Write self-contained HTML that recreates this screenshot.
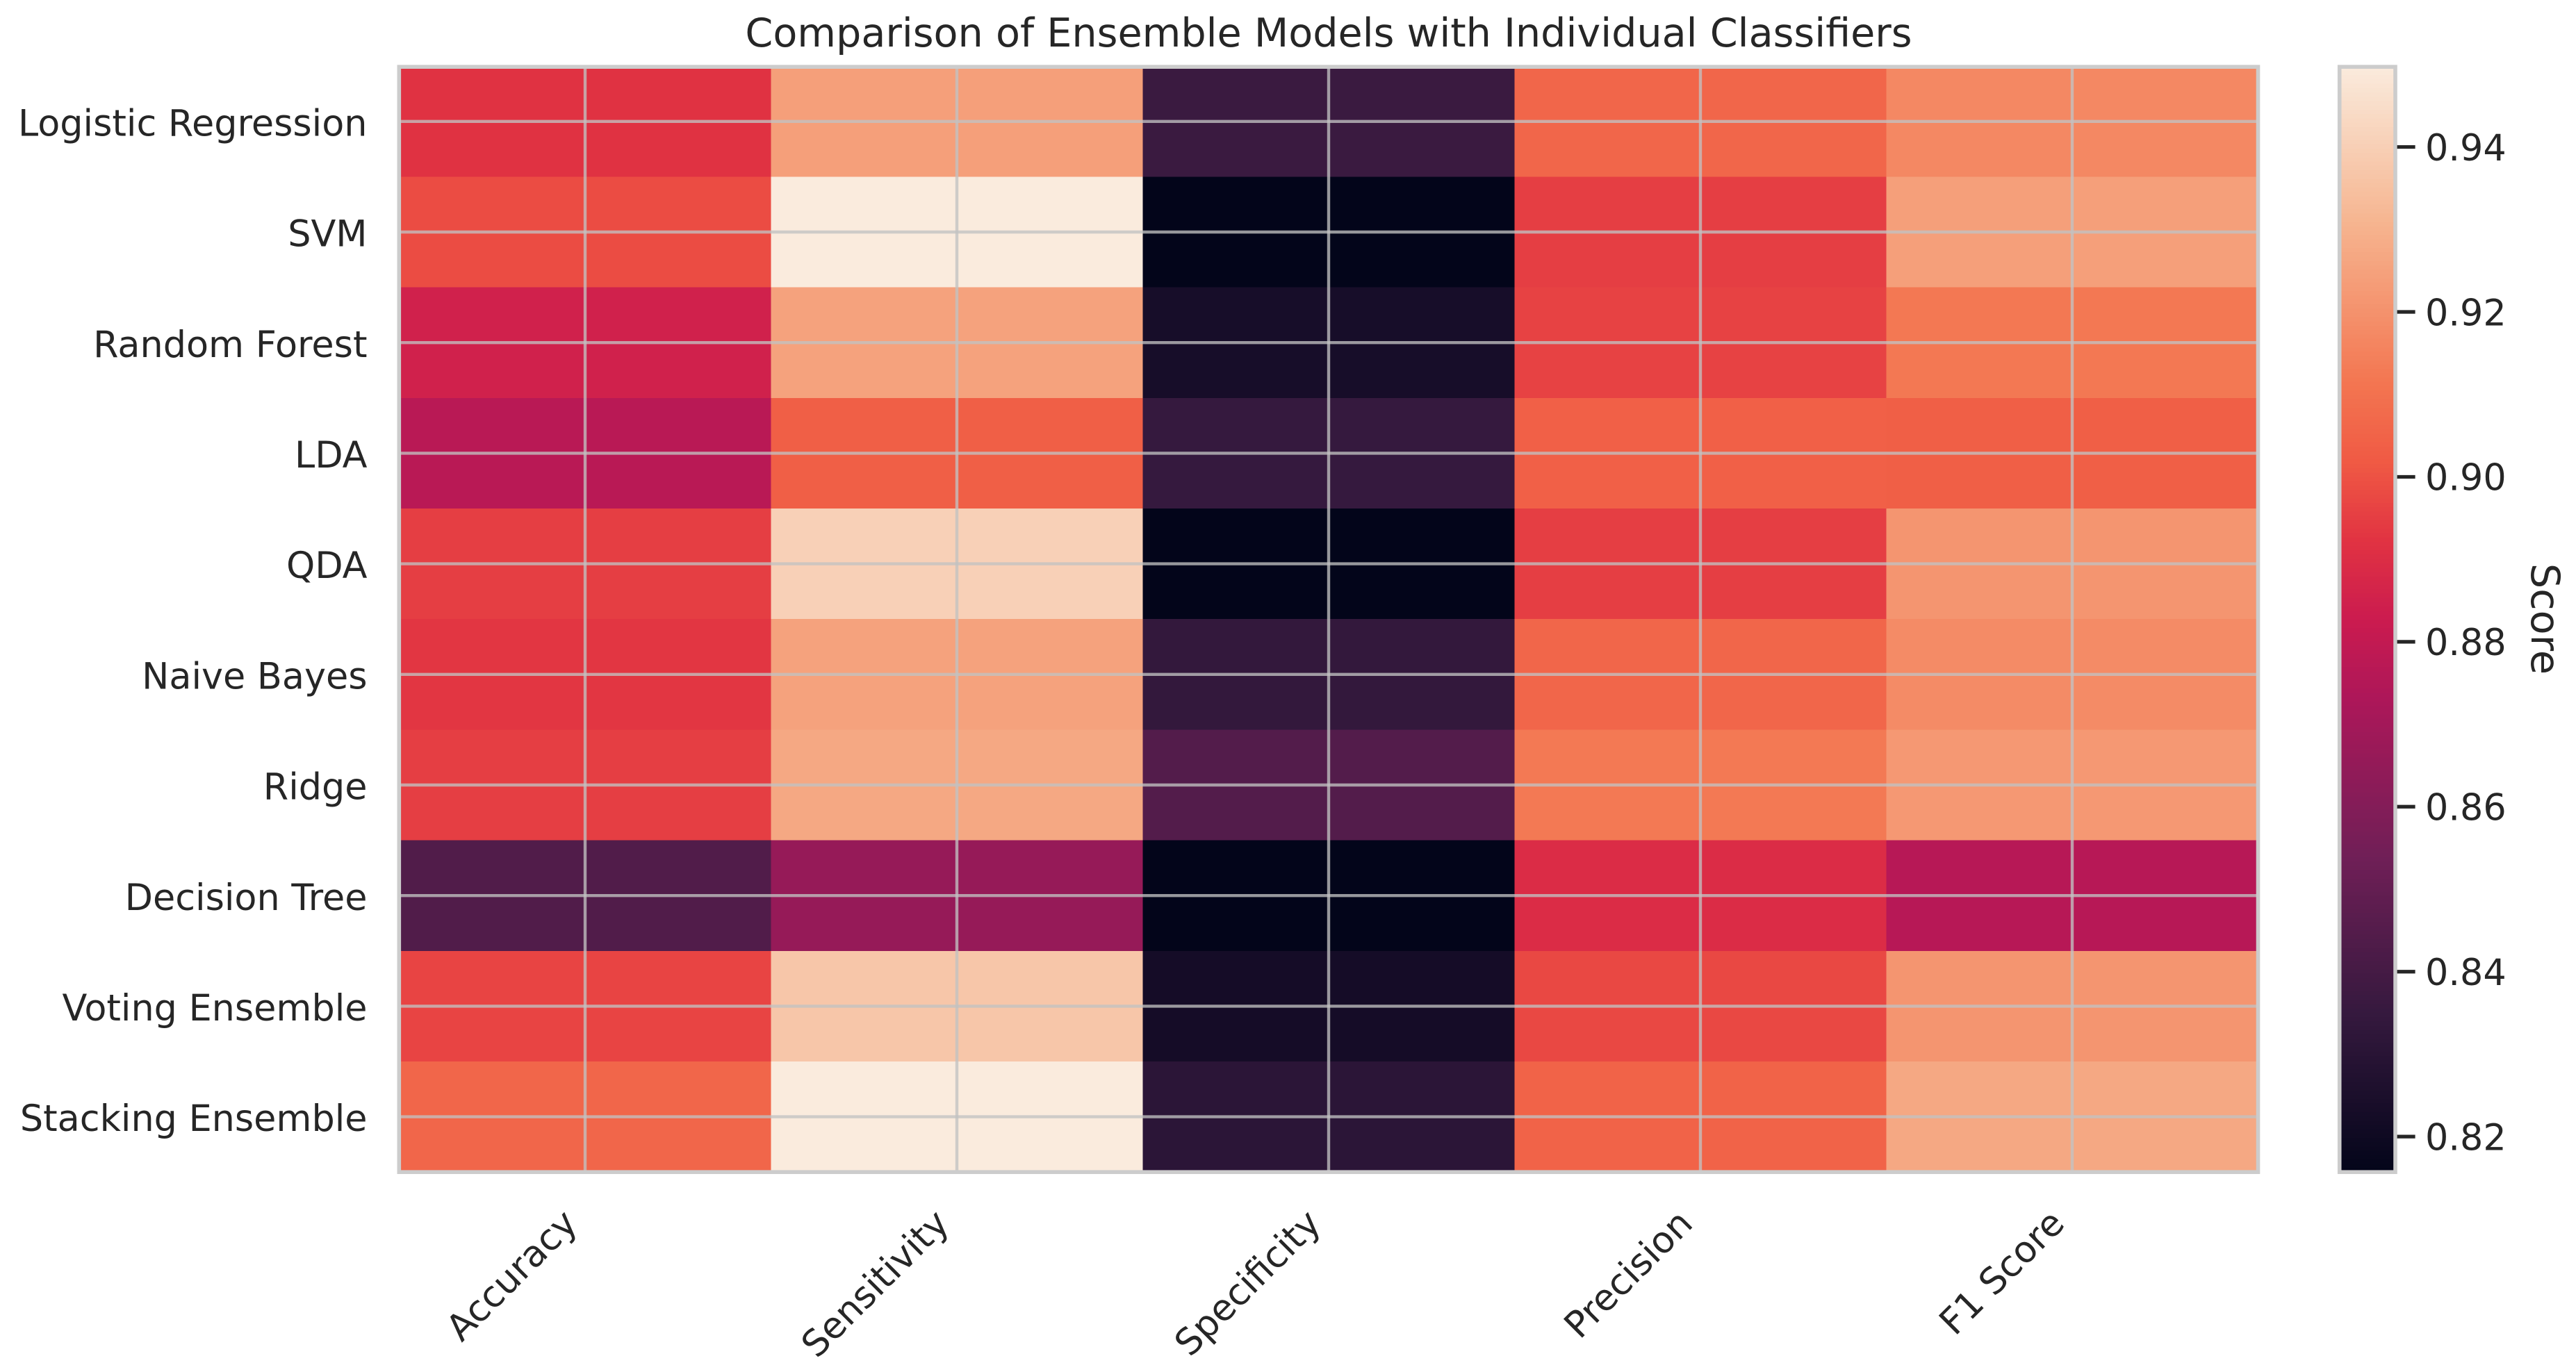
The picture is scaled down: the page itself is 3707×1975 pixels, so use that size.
<!DOCTYPE html>
<html lang="en">
<head>
<meta charset="utf-8">
<title>Comparison of Ensemble Models with Individual Classifiers</title>
<style>
  html, body { margin: 0; padding: 0; background: #fff; }
  svg { display: block; }
  text { font-family: "DejaVu Sans", "Liberation Sans", sans-serif; fill: #262626; }
</style>
</head>
<body>
<svg id="chart" xmlns="http://www.w3.org/2000/svg" width="3707" height="1975" viewBox="0 0 3707 1975">
  <rect x="0" y="0" width="3707" height="1975" fill="#ffffff"/>
  <text x="1912" y="67" text-anchor="middle" font-size="57.2">Comparison of Ensemble Models with Individual Classifiers</text>
  <g id="cells"></g>
  <g id="grid"></g>
  <rect x="574.3" y="96.2" width="2675.2" height="1591" fill="none" stroke="#cccccc" stroke-width="5.6"/>
  <g id="y-labels"></g>
  <g id="x-labels"></g>
  <g id="colorbar"></g>
  <rect x="3366.7" y="96.2" width="80.3" height="1591" fill="none" stroke="#cccccc" stroke-width="5.6"/>
  <g id="colorbar-ticks"></g>
  <text transform="translate(3643 891) rotate(90)" text-anchor="middle" font-size="57.2">Score</text>
</svg>
<script>
const models = ["Logistic Regression", "SVM", "Random Forest", "LDA", "QDA", "Naive Bayes", "Ridge", "Decision Tree", "Voting Ensemble", "Stacking Ensemble"];
const metrics = ["Accuracy", "Sensitivity", "Specificity", "Precision", "F1 Score"];
const accuracy = [0.892, 0.8985, 0.885, 0.877, 0.895, 0.893, 0.895, 0.844, 0.8965, 0.906];
const sensitivity = [0.924, 0.9498, 0.925, 0.9035, 0.9405, 0.925, 0.927, 0.866, 0.937, 0.9498];
const specificity = [0.8365, 0.8157, 0.8235, 0.835, 0.8157, 0.834, 0.8445, 0.8157, 0.8225, 0.831];
const precision = [0.906, 0.895, 0.896, 0.904, 0.895, 0.906, 0.9125, 0.8895, 0.8975, 0.905];
const f1Score = [0.917, 0.924, 0.912, 0.9035, 0.921, 0.918, 0.922, 0.8765, 0.921, 0.927];
const colorbarTicks = [0.82, 0.84, 0.86, 0.88, 0.90, 0.92, 0.94];
const rocketStops = [
  [0, "#03051a"], [0.1429, "#35193e"], [0.2857, "#701f57"], [0.4286, "#ad1759"],
  [0.5, "#cb1b4f"], [0.5714, "#e13342"], [0.643, "#f05a44"], [0.7143, "#f37651"],
  [0.8571, "#f6b48f"], [1, "#faebdd"]
];

const seriesByMetric = [accuracy, sensitivity, specificity, precision, f1Score];
const plotLeft = 574.5, plotRight = 3249.5, plotTop = 95.2, plotBottom = 1687.2;
const colWidth = (plotRight - plotLeft) / metrics.length;
const rowHeight = (plotBottom - plotTop) / models.length;
const allValues = seriesByMetric.flat();
const vmin = Math.min(...allValues);
const vmax = Math.max(...allValues);
const SVG_NS = "http://www.w3.org/2000/svg";

function xScale(i) { return plotLeft + i * colWidth; }
function yScale(i) { return plotTop + i * rowHeight; }
function valueToY(v) { return plotBottom - (v - vmin) / (vmax - vmin) * (plotBottom - plotTop); }
function hexToRgb(h) { return [1, 3, 5].map(function (p) { return parseInt(h.substr(p, 2), 16); }); }
function rocket(t) {
  const c = Math.max(0, Math.min(1, t));
  for (let i = 1; i < rocketStops.length; i++) {
    if (c <= rocketStops[i][0]) {
      const a = rocketStops[i - 1], b = rocketStops[i];
      const f = (c - a[0]) / (b[0] - a[0]);
      const ca = hexToRgb(a[1]), cb = hexToRgb(b[1]);
      return "rgb(" + ca.map(function (v, k) { return Math.round(v + (cb[k] - v) * f); }).join(",") + ")";
    }
  }
  return rocketStops[rocketStops.length - 1][1];
}
function colorScale(v) { return rocket((v - vmin) / (vmax - vmin)); }
function make(tag, parentId, attrs, text) {
  const el = document.createElementNS(SVG_NS, tag);
  Object.keys(attrs).forEach(function (k) { el.setAttribute(k, attrs[k]); });
  if (text !== undefined) el.textContent = text;
  document.getElementById(parentId).appendChild(el);
  return el;
}

/* heatmap cells */
seriesByMetric.forEach(function (series, c) {
  series.forEach(function (value, r) {
    const cell = make("rect", "cells", {
      x: xScale(c), y: yScale(r), width: colWidth, height: rowHeight,
      fill: colorScale(value), "shape-rendering": "crispEdges"
    });
    
    
  });
});

/* grid lines through cell centres */
metrics.forEach(function (m, c) {
  const cx = xScale(c + 0.5);
  const line = make("line", "grid", {
    x1: cx, x2: cx, y1: plotTop, y2: plotBottom,
    stroke: "#c2c2c2", "stroke-width": 4.4, "stroke-opacity": 0.78
  });
  
  
});
models.forEach(function (m, r) {
  const cy = yScale(r + 0.5);
  const line = make("line", "grid", {
    x1: plotLeft, x2: plotRight, y1: cy, y2: cy,
    stroke: "#c2c2c2", "stroke-width": 4.4, "stroke-opacity": 0.78
  });
  
  
});

/* y axis labels */
models.forEach(function (m, r) {
  const label = make("text", "y-labels", {
    x: 528.5, y: yScale(r + 0.5) + 20.6, "text-anchor": "end", "font-size": 52.4
  }, m);
  
  
});

/* x axis labels, rotated 45 degrees and right-aligned on the tick */
metrics.forEach(function (m, c) {
  const px = xScale(c + 0.5) - 8.5;
  const py = 1764;
  const label = make("text", "x-labels", {
    x: px, y: py, "text-anchor": "end", "font-size": 52.4,
    transform: "rotate(-45 " + px + " " + py + ")"
  }, m);
  
  
});

/* colorbar bands */
const bandCount = 256;
for (let i = 0; i < bandCount; i++) {
  const bandHeight = (plotBottom - plotTop) / bandCount;
  const band = make("rect", "colorbar", {
    x: 3366.7, width: 80.3, y: plotBottom - (i + 1) * bandHeight, height: bandHeight + 0.5,
    fill: rocket((i + 0.5) / bandCount), "shape-rendering": "crispEdges"
  });
  
  
}

/* colorbar ticks */
colorbarTicks.forEach(function (v) {
  const ty = valueToY(v);
  const tick = make("line", "colorbar-ticks", {
    x1: 3449.6, x2: 3475.6, y1: ty, y2: ty, stroke: "#262626", "stroke-width": 5.2
  });
  
  
  const label = make("text", "colorbar-ticks", {
    x: 3490, y: ty + 19.3, "font-size": 52.4
  }, v.toFixed(2));
  
  
});
</script>
</body>
</html>
